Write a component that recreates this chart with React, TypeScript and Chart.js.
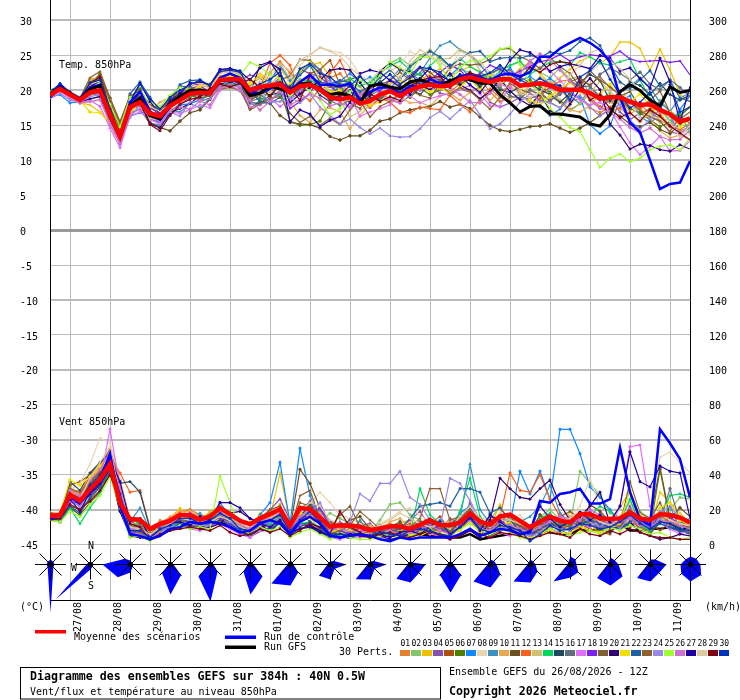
import React, { useEffect, useRef } from "react";
import { Chart, registerables } from "chart.js";
Chart.register(...registerables);

const dateLabels = ["27/08","28/08","29/08","30/08","31/08","01/09","02/09","03/09","04/09","05/09","06/09","07/09","08/09","09/09","10/09","11/09"];
const dateTicks = [2,6,10,14,18,22,26,30,34,38,42,46,50,54,58,62];
const tempTicks = [30,25,20,15,10,5,0,-5,-10,-15,-20,-25,-30,-35,-40,-45];
const windTicks = [300,280,260,240,220,200,180,160,140,120,100,80,60,40,20,0];

const meanTemp = [19.3,20.2,19.4,18.6,19.7,20.0,16.5,13.4,17.6,18.3,16.7,16.3,17.8,18.6,19.5,19.7,19.6,21.5,21.6,21.6,20.0,20.5,20.7,20.9,19.7,20.6,20.8,20.1,19.0,18.7,19.0,18.1,18.5,19.4,19.9,19.2,20.0,20.6,20.8,20.6,20.7,21.6,21.9,21.5,21.2,21.6,21.6,20.7,20.8,21.0,20.7,20.1,20.1,20.1,19.6,18.8,19.0,19.0,18.4,17.9,18.0,17.2,16.6,15.5,16.0];
const controlTemp = [19.0,20.7,19.4,18.8,20.4,20.8,16.5,13.2,18.2,19.8,17.0,15.8,17.6,18.8,19.8,20.0,19.6,21.8,22.4,21.8,19.8,19.6,20.2,21.2,20.0,21.2,22.2,20.8,20.8,20.6,21.0,18.6,19.8,20.4,20.4,19.6,20.6,20.6,21.6,21.0,21.3,22.0,22.2,21.8,21.4,22.2,22.4,22.0,22.6,24.8,24.8,26.0,26.8,27.5,26.8,25.8,24.1,19.0,15.4,14.0,10.0,5.9,6.6,6.8,9.9];
const gfsTemp = [19.5,20.4,19.6,18.7,20.2,20.6,16.2,13.3,17.8,18.9,16.4,15.9,18.0,19.2,20.0,20.0,19.8,21.4,21.5,21.4,19.2,19.6,20.6,20.2,19.8,20.9,21.0,20.2,19.4,19.6,19.2,18.2,20.6,20.9,20.5,20.2,21.2,21.5,21.0,20.6,21.4,21.8,21.5,21.0,21.0,19.4,18.2,16.9,17.7,17.8,16.6,16.6,16.4,16.2,15.2,14.9,16.5,19.8,20.8,20.0,18.6,17.8,20.5,19.7,20.0];

const t01 = [19.6,20.3,19.2,18.7,21.6,21.7,17,13.8,18.4,19.2,17.6,17.5,18.4,19.2,20.2,20.8,20.4,22.6,22.9,22.2,19.6,20,22.5,24.1,22.5,21,22.4,22,21.8,22.4,20.6,19.5,18.4,19.5,20.2,20.8,21.9,22.3,21,20.2,19.8,20.9,22.1,21.6,19.8,18.4,18.9,19.4,20,19.3,21.2,20.4,18.3,18.9,17.5,16.8,17.6,18.4,17.2,17.9,16.8,15.9,14.8,14.2,14.7];
const t02 = [19.4,20.5,19.6,18.8,20.5,21.8,17.5,14.3,18.8,19.6,17.8,17,18.2,19.4,19,19.8,19.2,21.2,21.4,21,20.4,21.9,21.2,20.8,19.7,21.6,21.3,21.4,19.6,21,20.9,19.4,20.8,22.7,23.9,24.6,23.6,25,25.7,24.5,23.4,23,22.6,21.5,22.4,23,23.5,24.1,23,22.6,21.8,23.2,21.6,22,19.4,18.6,19.7,18.8,19.9,17.2,16.4,18.6,17,16.2,17.8];
const t03 = [19.2,20,19.1,18.2,17.9,16.9,15.2,12.2,17,18.8,16.5,15.4,17.6,19.1,20.1,20.4,20,22,22.3,21.9,20.5,22.4,21.5,23.2,21.2,22.6,23.5,24,22,20.3,21,20.5,19.2,20.4,21,21.4,20.8,21.5,22.3,23.1,22,22.8,23.4,22.6,21.1,22.2,21.8,23.1,24.1,22.4,20.9,21.8,23,24.2,24.8,23.9,24.8,26.9,26.9,26,22.9,25.9,22.9,19.4,18.4];
const t04 = [19.5,20.2,19.3,18.4,19.6,19.2,16,13.1,17.2,17.8,15.9,15.4,17,18,19,19.8,20,21.3,21.7,21.4,22.2,21.8,20.4,21.9,19.6,23,22.4,20.2,20.6,19.6,18.5,18.8,17.5,19.1,18.6,18.2,19.2,20.4,20.8,19.6,19.3,20.2,19.7,20.5,18.3,17.6,18.2,19,18.8,19.4,20.4,19.6,19.8,20.8,18.6,17.4,18.7,16.9,15.8,16.8,17.2,15.6,14,13.8,14.6];
const t05 = [19.3,20.6,19.5,18.9,21.2,22,17.7,14.5,18.9,20,18,17.2,18.7,19.8,20.2,20.7,20.8,21.6,21.4,20.4,18.4,19.7,19.2,21.4,20.5,19.4,22.4,23,24.3,20.8,18.8,19,20.6,21.2,20.5,19.4,20.9,21,22,21.4,20.6,21.8,22.4,21.9,22.4,23.1,22.8,21.9,21.1,19.8,18.4,19.9,21.2,21.8,20.6,19.1,18.3,18.9,17.6,16.5,17.4,16.2,15.1,15.4,15.9];
const t06 = [19.8,20.4,19.3,18.6,21,22.3,17.4,14.7,19,20.2,17.4,16.9,18.4,19.4,19.1,19.4,20.1,21,20.8,21.2,20.7,19.4,18.3,20.1,15.6,15,15.1,15.6,18.2,21.2,21.6,22,20.4,21.3,20.3,19.8,19,20.3,19.4,20.1,21.1,20.8,21.8,20.4,22.1,20.7,21.8,20.6,21.5,20.5,19.7,18.6,17.2,18.1,19.6,18.7,19.2,18.6,17.4,16.8,15.8,14.8,15.5,16.4,17.6];
const t07 = [19.1,19.4,18.2,18.4,18.7,19.2,15.8,12.3,16.3,16.8,16.9,15,16.4,17.9,18.1,18.6,19.4,20.7,21,20.7,19.2,20.2,21.3,23.6,21.4,22.8,23.8,23,20.6,21.3,22.4,21.2,21.9,20.9,20.3,21.7,22.9,21.2,20.7,22,22.1,23.4,21.9,20.6,22.2,21.6,23.2,21.4,22,20.9,21.7,20.6,19.4,19,15.1,13.8,14.9,18.6,19.2,16.2,15.4,16.4,14.9,17.3,19.2];
const t08 = [19.6,20.3,19.2,18.1,18.4,18.5,15.6,12.8,16.9,17.5,16.9,16.6,17.8,18.6,19.3,19.9,20.4,21.2,20.8,19.8,20.7,21.8,22,23.7,22.9,23.6,25,26.2,25.7,25.4,24.4,22.2,20.2,21.7,22.8,23.5,25.6,24.7,24.8,23.9,23.2,25.6,24.8,23.4,22.4,21.2,20.6,19.4,20.7,20.1,19.5,18.8,17.6,20.6,22.6,23.8,22.1,21,17.9,16.2,16.5,15.9,15.1,14.1,13.5];
const t09 = [19.2,20.1,19.4,18.7,19.4,19.6,15.6,12.7,16.8,17.3,15.2,15.1,17.2,16.9,18.1,17.5,18.9,20.6,21.1,20.9,18.1,17.9,18.8,21.7,20.4,19.2,21.5,22.8,21.5,19.6,19.9,18.2,19.3,20,21.5,23.1,21.7,22.5,24.6,26.4,27,25.8,25.1,23.7,22,23.4,21.8,19.3,18.4,17.6,16.4,17.3,19.2,18.1,20.4,19,18.8,19.7,20.5,21.8,20.4,18.3,17,18.9,19.6];
const t10 = [19.5,20.1,19.4,18.6,21.5,21.8,17.2,14,18.2,18.8,17.2,18.3,19,19.7,20.5,21.2,20.9,22.8,22.8,22.5,20.8,19.6,20.7,22.4,18.5,16.4,15.4,17.2,17.5,16.9,14.5,16.4,18,19.5,18.6,19.1,18.2,18.3,17.7,19.2,19.6,18.6,19.7,20.3,18.6,19.9,20.6,19.7,18,18.8,19.1,18.3,17.2,16.9,17.8,19.5,18.4,17.3,16.6,17.5,16,14.2,13.2,13.6,12.9];
const t11 = [20,20.4,19.5,18.8,20.2,22.2,18.9,15.5,19.2,19.9,15.4,14.7,14.2,15.6,16.8,17.2,18.7,20.5,20.9,20.4,17.4,18.5,18.2,16.4,15.4,15.2,15.1,14.6,13.4,12.9,13.5,13.5,14.3,15.6,15.9,16.8,17.2,17.5,17.7,18.4,17.6,18,17.4,16.2,15,14.3,14.1,14.4,14.8,14.9,15.2,14.6,14,14.6,15.4,16.4,17.2,16.3,15.2,14.8,15.4,14.4,13.8,15.2,16];
const t12 = [19.3,20,19.2,18.3,19.3,19.8,15.8,12.9,17.4,18.1,16.2,15.9,18.4,18.3,19.9,20.9,20.4,22,22.2,21.2,18.6,20.4,23.9,25,23.6,19.6,18.5,20.2,22.5,24.3,21.2,19,17.6,18.9,18.3,17,16.8,17.6,17.4,17.2,19.3,18,16.9,18.7,20.2,19,18.4,16.8,16.4,19,20.6,21.3,21.5,20.2,18.9,17.7,16.9,17.5,18.2,17.3,18.7,16.6,14.9,14.4,15.3];
const t13 = [19.5,20.1,19.2,18.6,19.8,20.8,15.9,13,17.9,19,16.3,16,17.6,18.4,19.4,20.3,21,21.8,22.1,22,20.9,21.7,22.6,23.8,21.8,20.6,20.4,21.2,20,18.6,16.2,17,18.4,19.6,20.8,22,23.3,24.6,25.9,24.4,24.6,25.9,25.2,22.8,21.6,19.9,18.8,19.5,20.6,22,20.8,18.4,17,18.1,19.6,21.3,19.8,18.3,16.7,15.4,16.8,15.3,16.2,14.9,13.7];
const t14 = [19.7,20.5,19.4,18.9,20.1,21.5,17.2,14,18.1,18.6,16.9,16,18.3,18.9,19.2,18.9,19.3,21,21,20.6,20.6,18.3,20.1,19.1,18.3,20.9,21.6,20.4,18.9,19.3,21.7,20.6,21.2,22.4,23.5,24.2,22.9,22.2,23.5,24.8,23.4,24.6,23.4,22.6,21.6,22.7,23.6,24.2,22.3,23.2,24,24.2,23.6,25.4,24.8,23.9,23.6,24.1,24.5,21.5,18.8,17.5,15.6,16.8,13.9];
const t15 = [19.2,20.2,19.6,18.6,20.5,20.6,16.3,13,17.6,18.4,16.8,16.4,17.8,18.8,19.4,19.5,19.1,21.6,21.6,20.9,18.3,18.1,19.3,19.7,20.6,19.8,21.2,19.3,18.4,19.1,20,18.4,19,18.6,19.9,20.6,20.3,19.4,20.9,21.4,20.6,21.9,22.6,20.5,21.7,20.1,19.7,20.5,21,20.1,19.4,18.3,19.6,21.1,22.3,21.4,18.5,19.8,21.2,20.7,19.4,21,19.4,18.6,19.3];
const t16 = [19.4,20.1,19.1,18.5,19.9,19.6,16.2,13.2,17.8,17.9,16.7,16.8,18.9,20.6,20.5,20.2,19.9,21.5,21.3,21.1,18.4,18.9,18.5,19.6,18.9,20.3,20.7,20.5,18.5,17.9,18.6,19.2,19.4,18.8,20.1,19.6,21,20.5,20.9,20.2,21.5,21.2,22.2,22,21.6,20.5,19.2,18.8,20.1,19.4,18.6,19.4,21.4,20.5,20.6,22.3,23.2,22.4,21.5,22.6,20.9,20.1,21.5,20.4,19.1];
const t17 = [19.1,19.9,18.8,18.2,18.6,17.7,14.6,11.8,16.3,16.9,15.8,15.2,16.9,16.7,17.2,17.9,17.5,20,20.8,20.5,17.6,17.9,18.9,17.7,18.6,19.8,21.7,22.7,21.1,21.4,19.2,16.3,16.9,17.4,17.9,19.6,19.2,18.2,18.8,19.2,19.6,20.2,20.7,19.5,17.8,17.7,21.3,22.6,23.8,23.2,22.8,21.4,19.9,18.6,17.9,18.3,17.2,14.8,12.5,10.8,12,13.4,11.3,11.4,12.8];
const t18 = [19.6,20.3,19.4,18.7,20.2,21.6,17,13.6,17.7,19.5,17.7,16.4,18.1,19.3,21.1,20.7,19.7,21.4,21.3,21.3,19.4,20.3,19.8,20.9,17.4,18.4,19.6,21.9,20.7,19.2,17.4,19.1,20.4,19.9,21.5,20.9,22.2,23.4,21.5,22.6,23.7,22.9,21.4,22.4,23.6,23,21.9,22.8,23.4,24.1,24.4,25.1,24.2,24.8,25.1,24.9,24.9,25.6,24.5,24.1,24.2,24.3,24,24.2,22.2];
const t19 = [19.9,20.5,19.5,18.9,20.5,22.4,18.4,14.9,18.6,19.3,17.4,17.3,18.6,19.1,19.8,18.4,18.9,20.6,20.6,19.9,18.7,19.3,20.5,21.5,22,24.4,24.3,22.9,20.5,20.4,18.2,17.4,19.4,20.8,21.4,22.6,21.5,23.2,22.6,21.3,23.2,23.8,23.6,23.8,24.4,25.9,26,24.8,24.2,23.1,24.7,23.4,22.4,20.5,22.8,21.4,20.6,19.2,19.8,17.6,18.6,19.9,16.8,15.9,16.9];
const t20 = [19.3,20.1,19.2,18.4,18.8,19.1,15.7,13.1,17.3,18.7,15.2,14.6,16.8,17.4,18.1,19.3,19.6,20.9,21.2,21,19.5,23.6,24.1,22,18.2,19.5,20.4,21.4,22.9,23.1,22.9,21.1,19.2,22.7,23.9,23,22.6,20.7,20.1,21,22.4,20.8,20,18.8,19.8,21.6,19.9,18.7,17.8,19.5,17.1,16.4,18,20.2,21.7,20.1,15.2,13.6,11.6,12.3,12.1,11.5,11.3,12.2,11.6];
const t21 = [19.4,20,19,18.5,16.9,16.8,15.4,13,16.8,18.3,16.1,15.9,17.1,18.9,19.7,20.6,20.8,21.9,22,21.8,21,22.2,19.9,21.4,20.8,22.9,24,21.5,19.7,20,18.6,19.4,17.8,18.3,19.9,21.2,21.8,20.6,19.8,20.3,19.6,20.4,21.7,20,22.3,20.8,21.9,20.8,18.6,17.9,19.2,20.2,21.1,19.8,18.7,19.4,20.9,19.2,18.3,19.5,17.8,16.1,16.8,14.7,15.9];
const t22 = [20,20.7,19.8,19,20.8,21.2,16.4,13.5,19.5,21.2,19,16.9,18.2,20.8,21.4,21.5,20.6,22.9,23.1,22.8,20,18.3,18.1,19,20.6,22.2,23.6,21.2,20.9,21.4,21.1,19.8,20.6,21.8,22.9,21.6,23.4,24.5,25.6,24.8,23.5,24.4,25.4,25.6,24.1,24.6,24.7,24.6,25,24.7,25.5,25.2,25.7,27,27.5,26.4,23.7,21.2,20.3,21.5,22.8,20.6,21.4,18.9,18.4];
const t23 = [19.7,20.4,19.3,18.9,21.8,22.7,18.9,15.3,19.3,19.4,17.9,16.8,19.2,19.6,19.3,18.9,19.2,20.2,20.4,20.1,17.2,18,18.9,19.1,16.7,15.4,16.3,15,16,15.1,17.2,18.6,16.2,17.7,18.4,19.6,20,19.3,18.9,21,19.5,20.4,19.9,18.6,17.3,19,21,20.1,19.6,18.6,18.3,17.5,19.4,21.6,20.8,21.9,20.4,19.4,18.4,17.1,16.2,15.6,14.1,16.3,15.3];
const t24 = [18.8,19.6,18.6,18.3,19.1,19.4,15.6,12.6,16.1,18,16.2,15.6,16.9,16.3,18.3,18.6,18.8,20.6,21.4,20.8,19.9,19.6,18.4,18.4,19,18.2,19.5,17.6,16.4,15.2,15.9,14.7,13.8,14.6,13.5,13.3,13.4,14.5,16.1,17,15.9,17.2,18.6,16.5,14.5,15.2,16.6,18.3,19.5,18.4,18.2,17.5,18.7,19.3,17.6,16.3,17.4,17.9,15.7,14.4,15.9,17.3,16.4,13.8,15.1];
const t25 = [19.6,20.4,19.6,18.9,19.6,21.3,18,14.8,19,19.8,18.2,17.7,19.3,20.4,20.1,19.5,19.9,21.7,22.4,22.1,24,23.4,22.2,21.7,19.3,20.7,19.9,18.6,16.5,17.4,19.8,21.5,20.6,22.1,24.1,23.2,22.4,24.7,24.8,23.6,21.2,23.3,24.2,24.2,24.9,25.9,26.2,23.7,20.9,19.6,17.4,16.2,14.7,14.1,11.5,9,10.3,10.9,9.8,10.3,11.5,12,12.2,11.5,13.2];
const t26 = [19.2,19.9,19,18.2,18.4,18.7,15.1,12.4,16.6,17.3,16.4,15.6,17.3,17.6,17.3,18.5,17.9,20.3,20.7,20,18.6,17.2,18.4,19.9,17.9,18.7,19.5,18.9,17.8,18.2,17.6,19.4,20.5,19.5,18.8,18.2,20.4,20,21.3,21.9,20.5,19.4,18.3,18.2,19.6,20.9,20.3,22.4,24.2,25.2,24.4,22.9,21.3,20,18.7,17.4,16.8,15.9,14.7,13.9,14.6,13.4,12.9,13,14.3];
const t27 = [18.9,20.8,19.6,18.9,20.6,21.4,16.6,13.3,18.4,21,18.4,16.6,18.5,19.6,21,21.2,20.8,23,23.1,22.7,21.5,23.2,24,23,15.5,17.2,16.6,14.8,15.7,16.3,18.3,22.4,22.9,22.6,21.4,20.5,19.4,21.7,23.2,22.1,21.4,22,20.8,19.7,21.5,22.2,24.3,25.8,25.4,24.3,22.7,23.4,23.8,23.5,23.1,25,24.6,22.8,23.2,21.7,20.3,24.6,21.2,15.4,20.6];
const t28 = [19.8,20.3,19.3,18.5,20.8,21.4,16.7,13.9,18.7,19.5,17.7,17,18,19.2,19.6,20.9,20.3,22.4,22.6,22.4,20.4,21.3,19.7,20.1,21.8,24.3,25.1,26.1,25.6,24.9,23.3,22.1,21.4,22.9,23.1,21.6,24.2,25.8,25,24.2,22.8,24.6,25.2,24,22.6,21.9,22.6,20.1,19,19.8,21.2,19.9,22.2,23.6,25.4,25.9,24.3,23.1,21.6,19.9,18.4,17.1,15.5,13.3,15];
const t29 = [19.5,20.2,19.4,18.8,21,21.9,17.4,13.6,17.4,18.2,15.1,14.2,16.4,18,18.7,19,20.3,20.9,20.5,21,21.6,20.4,19.2,20.8,20.4,18.6,22.1,20.6,18.7,19.3,20.7,18.3,19.6,18.4,19.1,18.5,20.6,21.4,21.8,22,20.4,21.9,22.5,22.1,20.9,21.8,21.5,21.7,23.3,22.6,23.7,24.1,23.9,21.2,18.6,19.4,17.4,16.1,16.8,15.6,17.2,16.3,14.9,13.9,12.9];
const t30 = [19.6,21,19.7,18.8,21.1,21.5,17.3,13.7,18.3,20.9,18.8,17.3,19,20,20.8,21.5,20.7,22.7,22.9,22.6,20.2,20.9,21.6,22.6,19.8,23.1,23.8,22.4,21.9,20.7,20.6,22,20.6,21.1,22.3,20.9,21.8,23.3,23.1,22.6,21.2,22.3,21.8,22,22.5,23.6,22.3,21.5,20.8,21.7,20.9,20.7,18.6,21.9,22.8,24.3,21.6,19.4,17.5,18.3,19.7,17.1,20.8,16.9,17.6];

const meanWind = [16.5,16.9,28.5,25,31.7,37.4,46,24,14.6,14.2,8.9,11.7,13.6,16.9,16.9,14.2,16.1,20.9,17.4,13.6,11.7,15,17.4,20.3,10.8,20.9,20.3,15.5,10.4,11.1,10.8,10.2,8.3,9.2,10.4,10.4,8.9,11.3,14,11.1,11.1,12.7,17.8,13.2,11.3,16.1,17.2,13.6,9.8,13.2,16.1,13.6,12.7,17.4,17.4,15,14.6,15,18.4,15,14,17.4,16.9,15.5,12.7];
const controlWind = [15,17,27,24,30,37,52,22,6,5,3,5,9,10,13,12,13,12,10,7,8,12,14,12,6,13,16,12,5,4,5,6,5,3,2,4,3,4,4,4,4,6,9,5,7,9,8,6,7,25,24,29,30,32,23.5,23.5,26,55.5,30,14.6,11,66,58,49,27];
const gfsWind = [16,16,29,24,33,38,44,20,7,6,4,6,9,13,12,11,11,13,10,8,5,8,9,13,6,12,11,8,6,5,4,6,5,5,5,6,5,6,5,5,4,4,6,3,4,5,6,7,5,8,7,6,6,9,8,9,11,12,8,8,9,9,10,8,10];

const w01 = [16,14,30,27,36,41,51,28,10,9,6,12,14,19,20,17,16,18,15,13,11,16,19,18,9,15,17,21,13,12,9,8,6,10,12,8,9,11,9,13,7,14,20,12,9,15,13,11,6,8,12,10,14,11,15,9,12,8,13,10,7,12,15,11,9];
const w02 = [17,18,33,26,34,43,49,30,12,11,5,14,12,18,16,12,19,22,19,10,13,11,8,15,9,21,24,13,18,15,12,9,7,14,23,24,17,14,11,9,13,8,15,10,14,22,13,9,7,16,20,14,12,42,35,28,18,16,24,19,15,14,20,27,26];
const w03 = [19,15,29,31,38,44,55,34,7,8,4,9,15,21,15,14,19,13,16,8,7,18,15,41,13,22,16,8,6,9,11,7,8,6,9,12,14,10,6,12,9,16,13,7,10,23,11,14,9,5,13,7,19,8,12,6,15,21,31,12,8,30,24,18,12];
const w04 = [15,16,25,22,29,35,44,21,8,13,10,8,10,14,18,10,12,17,13,7,4,11,20,26,14,18,25,16,7,13,10,11,12,7,5,9,14,19,10,8,15,12,24,9,16,14,10,6,11,14,7,18,11,13,19,10,8,11,22,14,9,17,11,7,10];
const w05 = [18,18,34,36,40,46,54,37,14,10,5,7,11,16,14,11,17,15,11,9,6,9,12,16,8,13,19,12,5,8,6,13,9,4,7,11,8,6,12,16,8,9,14,7,11,13,9,12,8,6,10,15,7,12,9,7,6,14,10,16,12,8,13,9,7];
const w06 = [14,15,22,20,26,33,41,20,6,7,3,6,9,12,13,13,15,19,14,11,8,14,16,13,7,18,13,7,4,6,8,6,5,9,11,8,6,10,7,9,6,11,16,9,5,8,12,7,4,11,14,9,16,10,13,8,14,11,19,14,8,43,14,12,8];
const w07 = [15,14,28,24,31,39,48,25,9,6,4,8,8,15,12,15,13,24,16,12,9,17,24,47,12,55,28,15,10,7,9,10,8,5,8,6,9,7,11,14,10,18,22,8,6,17,12,42,29,42,26,66,66,52,33,27,20,13,17,8,11,14,9,12,15];
const w08 = [17,19,31,35,46,61,58,38,12,8,6,10,13,17,18,14,17,21,18,11,10,14,13,17,11,19,23,30,24,17,15,12,9,12,15,19,21,17,13,9,11,14,18,16,13,11,15,17,10,14,12,19,16,22,38,21,11,17,24,11,16,50,53,47,41];
const w09 = [16,16,27,23,32,37,45,29,13,21,8,9,13,13,16,18,12,16,18,6,9,13,11,14,8,15,22,19,12,9,7,14,6,11,7,10,8,12,15,8,9,15,46,20,12,10,11,13,16,22,34,18,13,15,11,16,13,9,12,17,10,13,22,9,11];
const w10 = [17,17,30,28,37,42,47,27,11,12,7,11,16,19,19,16,15,22,17,14,12,16,18,23,10,20,21,18,9,11,13,10,11,8,13,15,10,9,12,11,14,10,19,13,8,15,17,11,8,12,16,11,9,18,15,13,12,10,14,11,13,19,17,14,12];
const w11 = [14,13,21,17,24,30,40,24,15,12,6,10,12,14,17,12,14,19,15,8,5,12,15,19,9,43,35,21,13,10,14,16,9,8,10,13,7,12,10,8,10,13,17,11,9,12,16,10,7,17,13,11,14,10,23,19,13,12,16,9,14,44,15,21,16];
const w12 = [18,16,32,29,39,45,50,41,30,31,10,13,15,18,15,13,16,19,12,10,7,13,16,15,8,14,18,12,7,9,10,7,6,9,6,10,12,8,14,7,11,9,16,12,14,16,41,31,30,40,26,16,11,13,17,12,15,10,19,8,12,17,11,16,13];
const w13 = [16,15,26,25,30,38,46,23,10,9,5,9,13,15,14,11,14,20,13,12,9,14,17,21,10,18,19,14,6,7,8,5,7,6,8,7,9,11,13,10,8,12,19,10,7,13,15,8,5,10,14,9,13,16,12,11,9,14,16,13,10,15,14,12,10];
const w14 = [15,14,21,12,21,29,43,26,8,14,3,7,10,12,11,13,13,17,15,9,7,11,12,16,7,12,13,10,5,6,5,8,4,6,9,7,6,32,17,12,8,19,38,16,9,12,8,5,6,15,18,10,12,14,16,22,19,13,26,11,8,16,28,29,27];
const w15 = [17,17,36,31,41,47,52,35,36,30,9,8,11,15,13,10,12,14,11,7,5,9,14,18,6,16,23,16,8,5,7,9,6,8,5,4,7,9,12,10,7,13,17,8,6,11,9,7,5,9,13,8,6,11,14,9,7,12,11,9,6,13,12,8,6];
const w16 = [16,15,29,27,33,40,47,26,9,11,4,8,12,13,15,16,11,18,14,10,8,13,16,19,9,17,19,13,7,9,12,10,7,11,8,6,10,13,9,7,12,15,20,14,10,8,11,13,9,12,17,12,10,15,14,10,13,9,18,12,11,14,32,13,11];
const w17 = [16,16,27,21,31,36,66,33,7,6,3,7,10,11,9,8,11,12,9,6,4,8,10,14,5,11,12,9,4,3,5,4,5,4,6,5,7,8,6,5,3,6,9,6,4,7,5,8,4,6,9,7,6,12,10,14,9,22,56,57,22,12,9,6,8];
const w18 = [15,16,24,24,28,34,43,22,7,8,5,8,11,14,18,12,15,15,11,9,7,10,13,18,8,15,17,21,10,8,6,9,5,7,9,6,5,8,11,9,6,10,15,11,7,14,10,12,6,9,15,13,12,14,19,11,10,14,17,13,9,18,16,11,9];
const w19 = [18,17,28,26,35,41,50,28,11,10,6,10,14,16,13,11,13,16,13,10,8,15,20,22,11,24,22,16,9,17,22,10,9,7,11,12,9,8,7,10,8,14,18,13,11,9,14,11,8,12,10,16,19,15,12,17,14,11,36,18,15,24,12,10,14];
const w20 = [14,15,27,23,29,34,44,19,5,4,3,5,8,10,11,9,10,12,18,19,15,12,7,13,6,9,11,8,5,4,6,5,4,5,3,4,6,5,7,6,4,5,8,4,14,38,32,27,26,32,37,23,14,16,22,30,12,9,13,7,5,3,4,6,5];
const w21 = [17,18,37,34,39,45,49,31,8,9,5,11,12,15,17,13,15,19,16,10,9,13,16,20,9,18,16,12,7,9,8,7,6,5,7,8,6,5,8,7,5,8,13,7,8,10,13,6,4,5,8,6,7,10,8,7,9,12,31,17,10,21,24,14,11];
const w22 = [15,14,22,18,27,33,42,23,6,5,4,9,9,12,10,11,12,16,12,8,6,9,9,12,5,10,13,9,5,6,4,6,5,5,7,9,15,22,23,24,22,32,32,30,18,21,14,8,6,9,12,10,8,12,14,12,10,9,13,16,9,12,10,8,7];
const w23 = [16,17,32,30,36,42,48,30,8,7,4,8,13,14,12,10,14,17,14,11,8,12,14,17,8,28,31,15,6,8,11,19,14,9,8,7,10,15,32,32,14,16,20,11,9,13,10,7,7,11,15,9,11,13,16,14,12,10,20,14,12,17,13,11,10];
const w24 = [16,16,25,22,30,36,45,24,9,8,4,7,11,13,12,11,11,18,13,9,7,11,13,15,7,16,18,24,12,10,13,29,25,35,35,42,27,23,14,10,38,35,25,14,10,11,9,7,5,7,11,9,8,17,13,10,14,9,16,12,10,19,22,15,12];
const w25 = [14,13,19,16,23,28,39,21,4,5,2,6,9,11,9,10,9,39,24,9,6,10,8,10,4,7,9,6,3,5,4,3,3,5,6,4,5,7,9,13,6,9,12,8,6,9,7,4,3,6,9,8,5,7,8,6,10,8,11,9,6,7,4,3,4];
const w26 = [17,16,31,28,37,43,53,32,9,10,5,10,14,17,14,12,17,19,15,11,9,14,15,18,9,16,20,17,8,10,7,8,7,9,8,6,7,9,11,8,6,11,14,9,8,12,11,9,7,10,13,16,15,14,20,17,11,13,15,11,10,14,13,11,9];
const w27 = [15,17,26,19,30,35,49,36,13,15,4,9,12,13,11,16,14,24,24,21,15,12,10,14,7,9,10,7,5,4,6,6,5,6,4,7,8,6,10,13,6,10,16,8,17,13,9,6,8,22,15,10,13,19,14,17,13,22,53,36,33,45,42,41,15];
const w28 = [16,16,28,26,38,47,56,27,10,9,6,9,12,15,14,13,13,16,14,10,8,12,15,19,9,19,24,22,14,12,10,9,8,11,14,18,15,12,10,12,9,16,22,15,10,18,14,12,9,13,17,14,15,20,17,13,11,15,19,16,13,17,14,12,11];
const w29 = [14,15,23,20,25,31,40,25,12,10,3,6,8,9,10,9,8,11,7,5,6,9,7,9,5,8,12,10,6,19,10,7,4,6,7,5,4,6,8,5,3,5,8,6,4,7,6,5,3,5,7,6,4,9,6,5,8,6,9,7,5,4,4,3,3];
const w30 = [16,17,29,25,34,40,50,29,8,8,4,9,11,15,15,12,14,18,15,9,8,13,14,17,8,14,19,13,6,6,5,6,5,7,6,5,8,9,8,6,5,10,15,9,7,11,10,8,2,6,11,8,9,12,11,9,10,13,17,12,9,13,12,9,8];

const tempPerts = [t01,t02,t03,t04,t05,t06,t07,t08,t09,t10,t11,t12,t13,t14,t15,t16,t17,t18,t19,t20,t21,t22,t23,t24,t25,t26,t27,t28,t29,t30];
const windPerts = [w01,w02,w03,w04,w05,w06,w07,w08,w09,w10,w11,w12,w13,w14,w15,w16,w17,w18,w19,w20,w21,w22,w23,w24,w25,w26,w27,w28,w29,w30];

// rose radii, in the order N, NE, E, SE, S, SW, W, NW
const roseN  = [5,3,4,3,3,3,4,3,3,3,3,5,5,8,7,5,8];
const roseNE = [4,2,2,2,2,2,3,5,5,3,3,5,4,7,6,7,8];
const roseE  = [4,3,3,3,3,3,3,16,16,15,3,6,5,6,8,16,10];
const roseSE = [4,3,3,15,10,17,11,6,6,12,15,14,10,11,17,12,15];
const roseS  = [48,5,8,30,37,30,21,15,15,18,28,23,18,13,21,17,17];
const roseSW = [4,49,18,12,17,10,27,16,21,20,15,24,24,24,19,19,13];
const roseW  = [4,4,28,2,2,3,3,3,3,3,3,3,3,3,3,3,10];
const roseNW = [4,3,8,3,3,3,3,3,3,3,3,3,3,3,3,3,7];
const roseAt = [0,4,8,12,16,20,24,28,32,36,40,44,48,52,56,60,64];

const pertColors = ["#e58030","#84c46a","#f0c000","#8a50b0","#b05010","#508000","#1088ff","#e8d4b0","#3a90c0","#e8a850","#685020","#f86020","#d0c070","#00d860","#204860","#607080","#e070f8","#8020f0","#806030","#300070","#f0e000","#2060a0","#906030","#9888e8","#a0ff30","#d070d0","#2000a0","#e0c8a0","#800010","#0030c0"];
const pertMarkers = ["circle","rect","cross","triangle","rectRot"];

const MONO = '"DejaVu Sans Mono"';
const pts = (a: number[]) => a.map((y, x) => ({ x, y }));

const decor = {
  id: "decor",
  afterDatasetsDraw(chart: any) {
    const { ctx, scales } = chart;
    const xs = scales.x, ys = scales.y;
    const cy = Math.round(ys.getPixelForValue(-47.8)) + 0.5;
    ctx.save();
    const C = Math.SQRT1_2;
    roseAt.forEach((at, i) => {
      const cx = Math.round(xs.getPixelForValue(at)) + 0.5;
      const r = [roseN[i], roseNE[i], roseE[i], roseSE[i], roseS[i], roseSW[i], roseW[i], roseNW[i]];
      const d = [[0,-1],[C,-C],[1,0],[C,C],[0,1],[-C,C],[-1,0],[-C,-C]];
      ctx.fillStyle = "#0000ff";
      ctx.beginPath();
      r.forEach((v, k) => { const px = cx + d[k][0]*v, py = cy + d[k][1]*v; k ? ctx.lineTo(px,py) : ctx.moveTo(px,py); });
      ctx.closePath(); ctx.fill();
      ctx.strokeStyle = "#000"; ctx.lineWidth = 1;
      ctx.beginPath();
      ctx.moveTo(cx-15.5,cy); ctx.lineTo(cx+15.5,cy);
      ctx.moveTo(cx,cy-15); ctx.lineTo(cx,cy+15);
      ctx.moveTo(cx-11,cy-11); ctx.lineTo(cx+11,cy+11);
      ctx.moveTo(cx-11,cy+11); ctx.lineTo(cx+11,cy-11);
      ctx.stroke();
      ctx.fillStyle = "#000";
      ctx.beginPath(); ctx.arc(cx,cy,2.5,0,7); ctx.fill();
    });
    const text = (s: string, x: number, y: number, font = `10px ${MONO}`) => { ctx.font = font; ctx.fillStyle = "#000"; ctx.textAlign = "left"; ctx.textBaseline = "middle"; ctx.fillText(s,x,y); };
    text("Temp. 850hPa",59,65);
    text("Vent 850hPa",59,422);
    text("N",88,546); text("W",71,568); text("S",88,586);
    text("(°C)",20,607);
    text("(km/h)",705,607);
    ctx.fillStyle="#ff0000"; ctx.fillRect(35,630,31,3.5);
    ctx.fillStyle="#0000ff"; ctx.fillRect(225,635.5,31,3.5);
    ctx.fillStyle="#000"; ctx.fillRect(225,645.5,31,3.5);
    text("Moyenne des scénarios",74,637);
    text("Run de contrôle",264,637);
    text("Run GFS",264,647);
    text("30 Perts.",339,652);
    pertColors.forEach((c,i)=>{
      const x = 400+11*i;
      ctx.fillStyle=c; ctx.fillRect(x,650,10,6);
      text(String(i+1).padStart(2,"0"),x+0.5,644,`8px ${MONO}`);
    });
    ctx.strokeStyle="#000"; ctx.lineWidth=1;
    ctx.strokeRect(20.5,667.5,420,31.5);
    text("Diagramme des ensembles GEFS sur 384h : 40N 0.5W",30,677,`bold 11.6px ${MONO}`);
    text("Vent/flux et température au niveau 850hPa",30,692);
    text("Ensemble GEFS du 26/08/2026 - 12Z",449,672);
    text("Copyright 2026 Meteociel.fr",449,692,`bold 11.6px ${MONO}`);
    ctx.restore();
  },
};

const noPad = (s: any) => { s.paddingLeft = s.paddingRight = s.paddingTop = s.paddingBottom = 0; };

export default function App() {
  const ref = useRef<HTMLCanvasElement>(null);
  useEffect(() => {
    const line = (label: string, data: number[], axis: string, color: string, w: number, order: number) => ({
      label, data: pts(data), yAxisID: axis, borderColor: color, backgroundColor: color,
      borderWidth: w, pointRadius: 0, tension: 0, order,
    });
    const inner = (c: any, v: number) => (c.dataIndex === 0 || c.dataIndex === meanTemp.length - 1 ? 0 : v);
    const pert = (label: string, data: number[], axis: string, i: number) => ({
      ...line(label, data, axis, pertColors[i], 1.2, 100 - i),
      pointRadius: (c: any) => inner(c, 1.3), pointStyle: pertMarkers[i % pertMarkers.length],
      pointBorderWidth: (c: any) => inner(c, 1),
    });
    const chart = new Chart(ref.current!, {
      type: "line",
      data: { datasets: [
        line("Moyenne temp", meanTemp, "y", "#ff0000", 4.5, 0),
        line("GFS temp", gfsTemp, "y", "#000000", 3, 1),
        line("Contrôle temp", controlTemp, "y", "#0000ff", 2.5, 2),
        line("Moyenne vent", meanWind, "y1", "#ff0000", 4.5, 0),
        line("GFS vent", gfsWind, "y1", "#000000", 2.5, 200),
        line("Contrôle vent", controlWind, "y1", "#0000ff", 2.5, 2),
        ...tempPerts.map((a, i) => pert(`T ${String(i + 1).padStart(2, "0")}`, a, "y", i)),
        ...windPerts.map((a, i) => pert(`V ${String(i + 1).padStart(2, "0")}`, a, "y1", i)),
      ] as any },
      options: {
        responsive: false, animation: false, devicePixelRatio: 1,
        layout: { padding: { left: 20, right: 0, top: 0, bottom: 0 } },
        plugins: { legend: { display: false }, tooltip: { enabled: false } },
        scales: {
          x: {
            type: "linear", min: 0, max: 64,
            afterBuildTicks: (s: any) => { s.ticks = dateTicks.map((value) => ({ value })); },
            afterFit: (s: any) => { s.height = 100; noPad(s); },
            grid: { color: "#bbbbbb", lineWidth: 1, drawTicks: false },
            border: { color: "#000", width: 1 },
            ticks: {
              autoSkip: false, minRotation: 90, maxRotation: 90, padding: 2, labelOffset: 8.5, color: "#000",
              font: { family: MONO, size: 10 },
              callback: (v: any) => dateLabels[dateTicks.indexOf(v)],
            },
          },
          y: {
            position: "left", min: -52.93, max: 32.93,
            afterBuildTicks: (s: any) => { s.ticks = tempTicks.map((value) => ({ value })); },
            afterFit: (s: any) => { s.width = 30; noPad(s); },
            grid: {
              drawTicks: false,
              color: (c: any) => (c.tick && c.tick.value === 0 ? "#999999" : "#bbbbbb"),
              lineWidth: (c: any) => (c.tick && c.tick.value === 0 ? 3 : c.tick && c.tick.value % 10 === 0 ? 2 : 1),
            },
            border: { color: "#000", width: 1 },
            ticks: { crossAlign: "far", autoSkip: false, labelOffset: 2, color: "#000", font: { family: MONO, size: 10 }, callback: (v: any) => String(v) },
          },
          y1: {
            position: "right", min: -31.72, max: 311.72,
            afterBuildTicks: (s: any) => { s.ticks = windTicks.map((value) => ({ value })); },
            afterFit: (s: any) => { s.width = 50; noPad(s); },
            grid: { display: false, drawTicks: false },
            border: { color: "#000", width: 1 },
            ticks: { autoSkip: false, padding: 19, labelOffset: 2, color: "#000", font: { family: MONO, size: 10 }, callback: (v: any) => String(v) },
          },
        },
      } as any,
      plugins: [decor],
    });
    return () => chart.destroy();
  }, []);
  return (
    <div style={{ position: "fixed", left: 0, top: 0, width: 740, height: 700, background: "#fff" }}>
      <canvas ref={ref} width={740} height={700} style={{ display: "block" }} />
    </div>
  );
}
